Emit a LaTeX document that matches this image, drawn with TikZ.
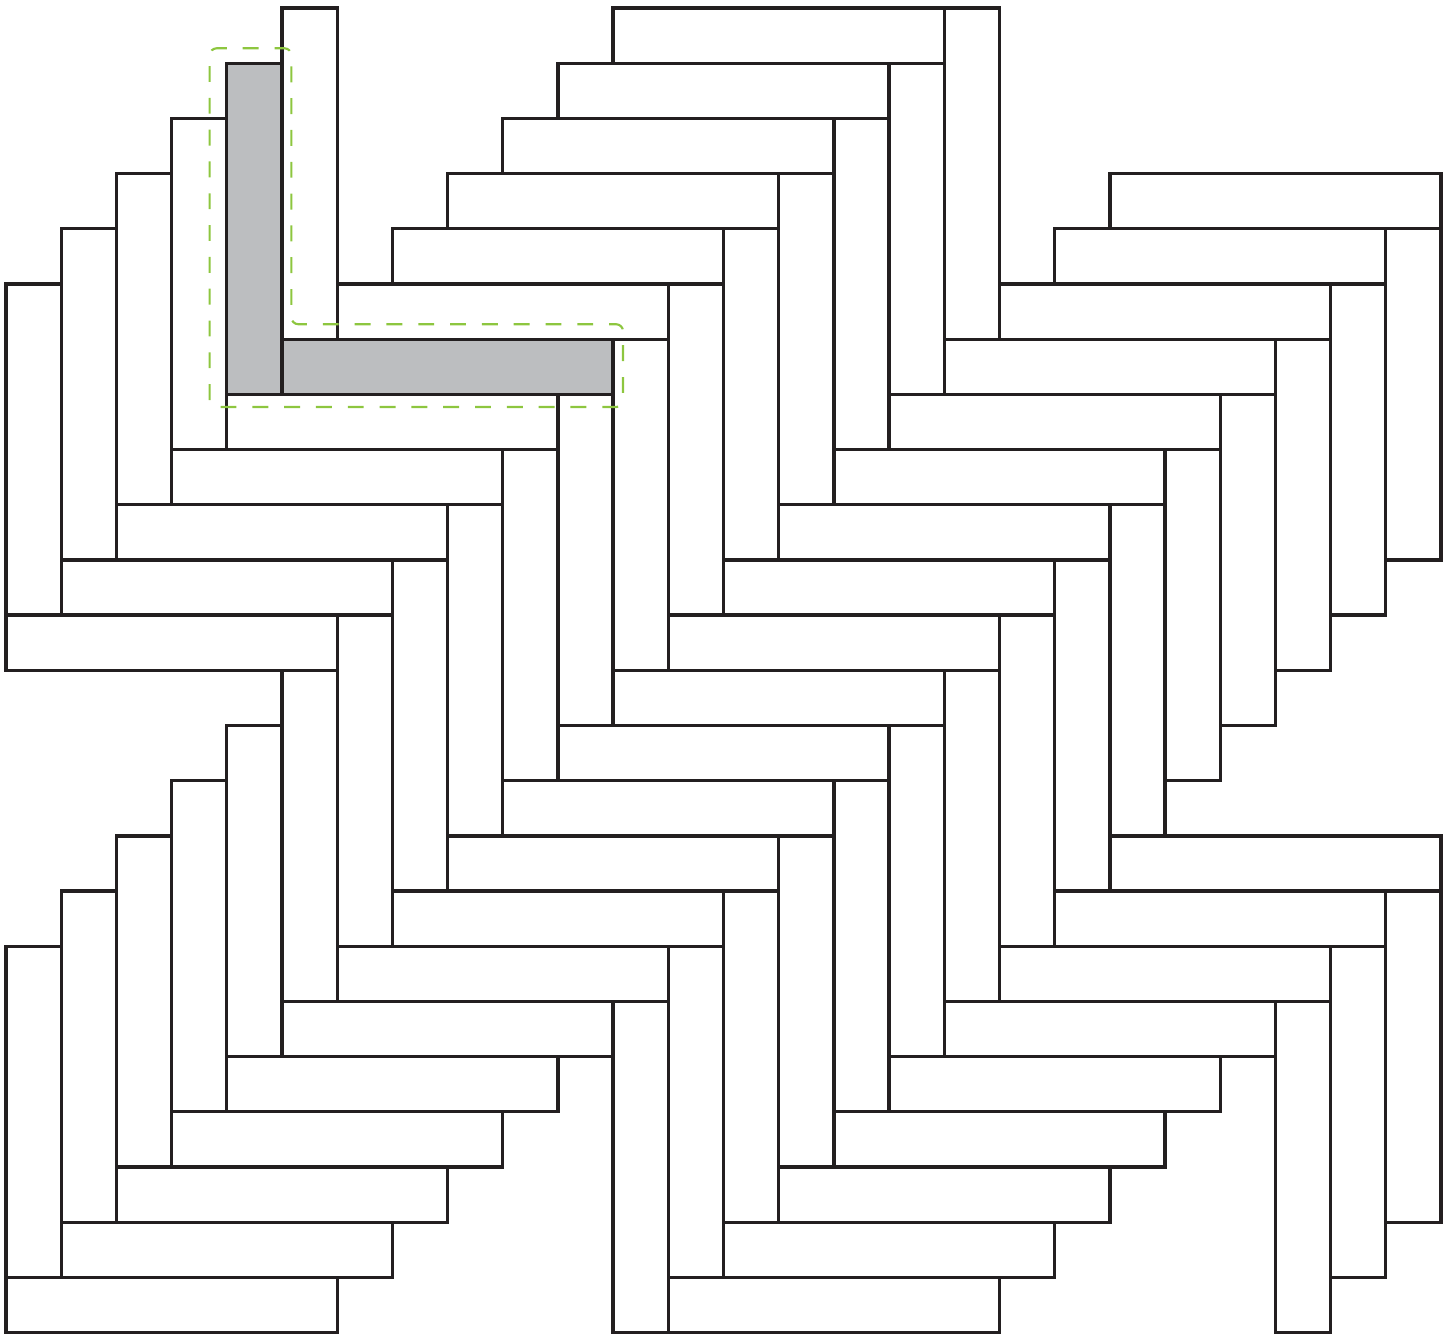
\documentclass[tikz,border=0pt]{standalone}
\usepackage{tikz}
\definecolor{BrickLine}{RGB}{35,31,32}
\definecolor{BrickGray}{RGB}{188,190,192}
\definecolor{MarkGreen}{RGB}{141,198,63}

\begin{document}
\begin{tikzpicture}[scale=.5,
    brick/.style={BrickLine,line width=.85pt},
    markline/.style={MarkGreen,line width=.55pt,dash pattern=on 4.1pt off 4.1pt,rounded corners=1.8pt}]
  \useasboundingbox (-0.109,-0.073) rectangle (26.236,24.145);
  % the highlighted L
  \fill[BrickGray] (4,17) rectangle (5,23);
  \fill[BrickGray] (5,17) rectangle (11,18);
  % upright bricks, diagonal by diagonal
  \foreach \s/\a/\b in {5/0/5,17/0/17,29/11/25,41/23/25}{
    \foreach \c in {\a,...,\b}{\draw[brick] (\c,18-\s+\c) rectangle ++(1,6);}}
  % lying bricks
  \foreach \s/\a/\b in {11/0/11,23/0/20,35/12/20}{
    \foreach \c in {\a,...,\b}{\draw[brick] (\c,23-\s+\c) rectangle ++(6,1);}}
  % dashed frame round the L
  \draw[markline] (3.69,16.77) -- (3.69,23.27) -- (5.17,23.27) -- (5.17,18.27)
    -- (11.18,18.27) -- (11.18,16.77) -- cycle;
\end{tikzpicture}
\end{document}
